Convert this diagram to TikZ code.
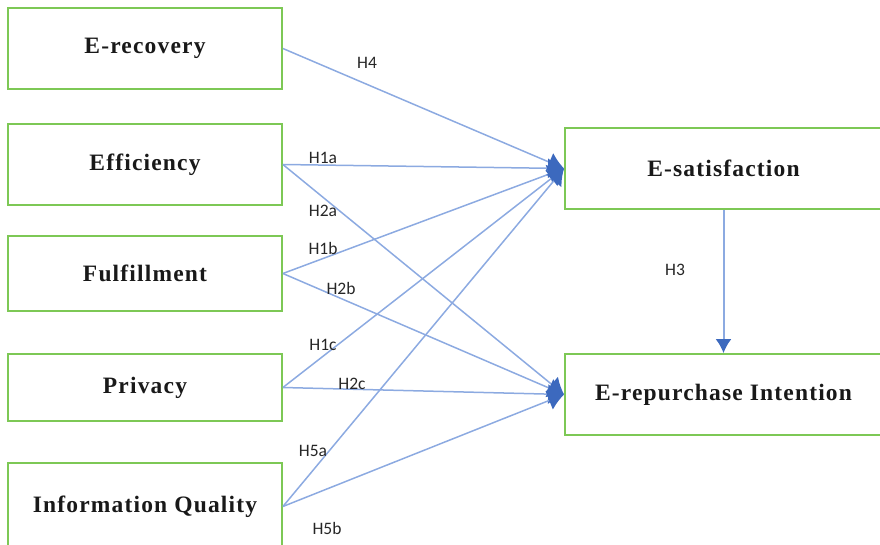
\documentclass[tikz,border=0pt]{standalone}
\usepackage{fontspec}
\setmainfont{Liberation Serif}
\newfontfamily\boxfont{Liberation Serif}[LetterSpace=5]
\newfontfamily\hypfont{Carlito}
\usetikzlibrary{arrows.meta}

\definecolor{boxgreen}{RGB}{125,200,85}
\definecolor{linkblue}{RGB}{140,170,225}
\definecolor{tipblue}{RGB}{60,105,190}

\begin{document}
\begin{tikzpicture}[x=1pt,y=-1pt,
  construct/.style={draw=boxgreen,line width=1.8pt,fill=white,
    minimum width=274pt,inner sep=0pt,
    font=\boxfont\bfseries\fontsize{23.5}{27}\selectfont,text=black!90},
  link/.style={draw=linkblue,line width=1.5pt,
    -{Latex[color=tipblue,length=16pt,width=20pt]}},
  hyp/.style={font=\hypfont\fontsize{17.5}{20}\selectfont,text=black!85,inner sep=0pt}]
 \useasboundingbox (0,0) rectangle (880,545);
 % exogenous constructs
 \node[construct,minimum height=81pt] (rec) at (145,48.5) {E-recovery};
 \node[construct,minimum height=81pt] (eff) at (145,164.5) {Efficiency};
 \node[construct,minimum height=75pt] (ful) at (145,273.5) {Fulfillment};
 \node[construct,minimum height=67pt] (pri) at (145,387.5) {Privacy};
 \node[construct,minimum height=87pt] (iq) at (145,506.5) {Information Quality};
 % endogenous constructs
 \node[construct,minimum width=317pt,minimum height=81pt] (sat) at (723.5,168.5) {E-satisfaction};
 \node[construct,minimum width=317pt,minimum height=81pt] (rep) at (723.5,394.5) {E-repurchase Intention};
 % paths
 \foreach \src in {rec,eff,ful,pri,iq}
  \draw[link] (\src.east) -- (sat.west);
 \foreach \src in {eff,ful,pri,iq}
  \draw[link] (\src.east) -- (rep.west);
 \draw[link,line width=2pt,-{Latex[color=tipblue,length=14pt,width=16pt]}] (sat.south) -- (rep.north);
 % hypotheses
 \node[hyp] (h4) at (367,63) {H4};
 \node[hyp] (h1a) at (323,158) {H1a};
 \node[hyp] (h2a) at (323,211) {H2a};
 \node[hyp] (h1b) at (323,248) {H1b};
 \node[hyp] (h2b) at (341,288) {H2b};
 \node[hyp] (h1c) at (323,345) {H1c};
 \node[hyp] (h2c) at (352,384) {H2c};
 \node[hyp] (h5a) at (313,451) {H5a};
 \node[hyp] (h5b) at (327,528) {H5b};
 \node[hyp] (h3) at (675,270) {H3};
\end{tikzpicture}
\end{document}
